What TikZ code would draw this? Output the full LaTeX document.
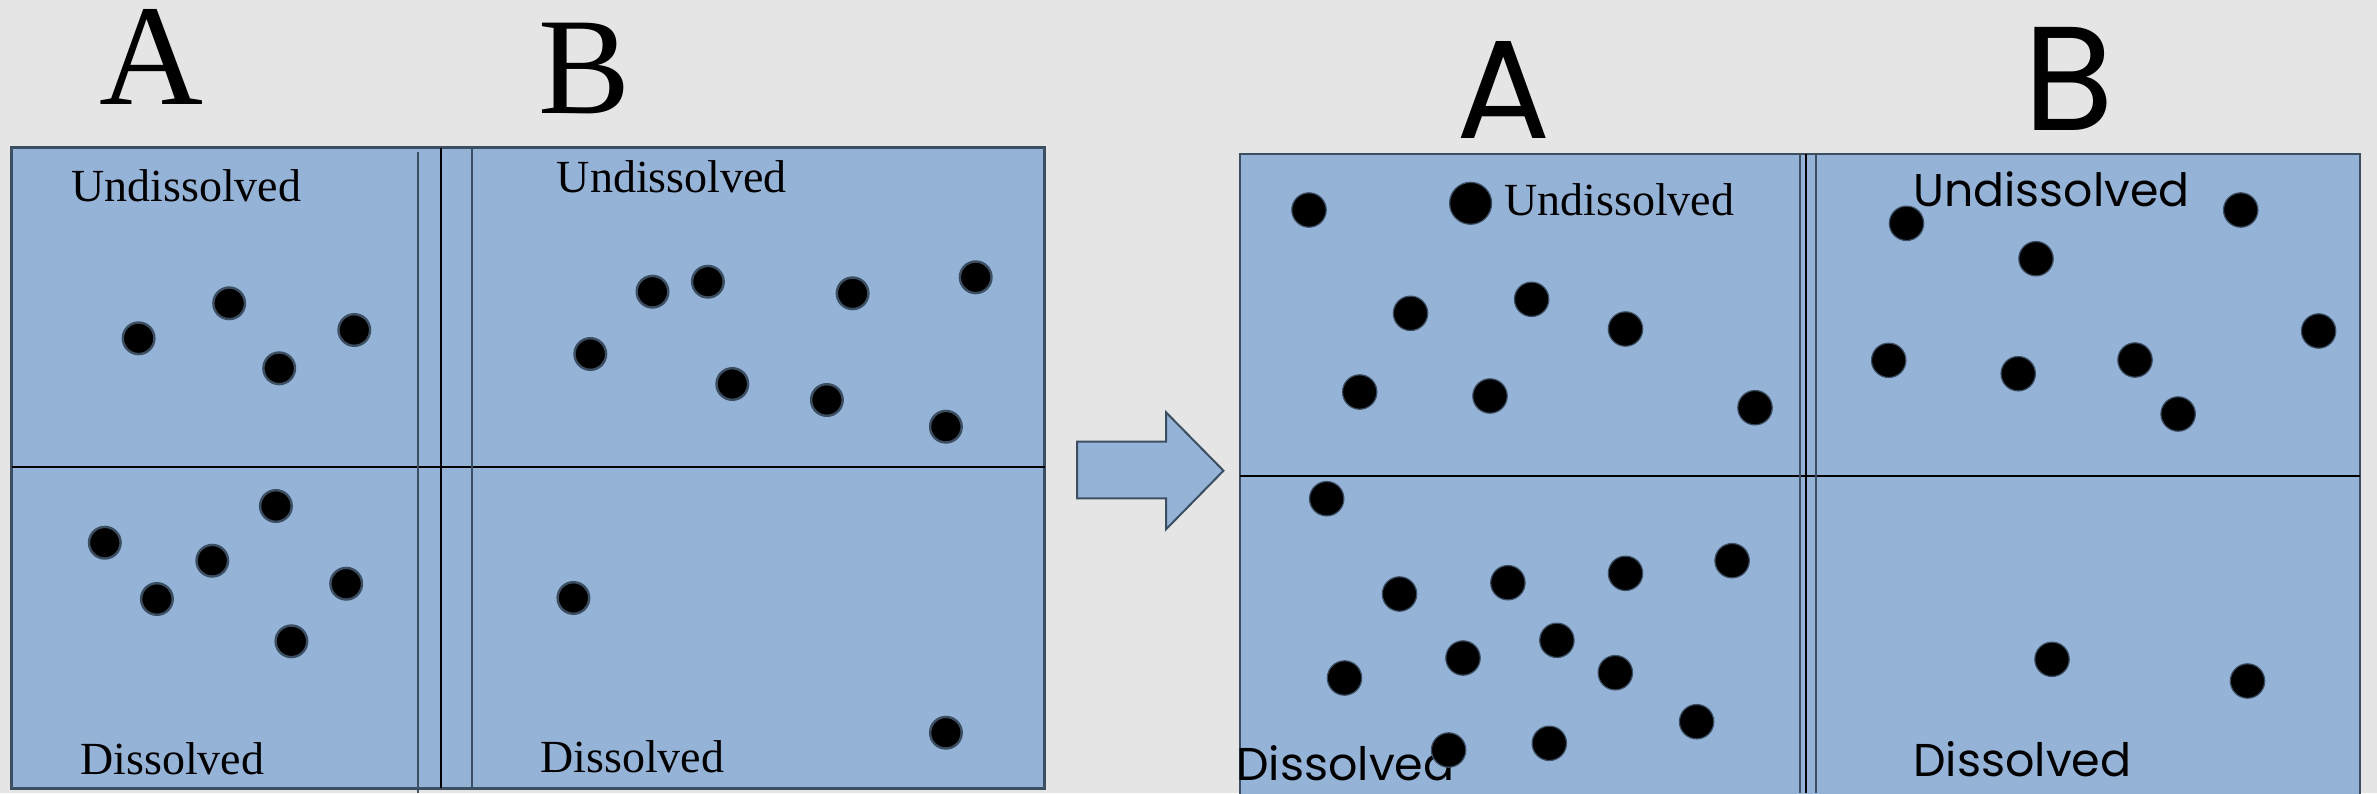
\documentclass[tikz,border=0pt]{standalone}
\usepackage{fontspec}
\setmainfont{Liberation Serif}
\newfontfamily\sansf{Poppins}
\definecolor{bg}{RGB}{229,229,229}
\definecolor{panel}{RGB}{149,179,215}
\definecolor{edge}{RGB}{60,78,98}
\begin{document}
\begin{tikzpicture}[x=0.5pt,y=-0.5pt,
  panelbox/.style={fill=panel,draw=edge,line width=1.4pt},
  slateline/.style={draw=edge,line width=1pt},
  blackline/.style={draw=black,line width=0.8pt},
  dotL/.style={fill=black,draw=edge,line width=1.2pt},
  dotR/.style={fill=black,draw=edge,line width=0.6pt},
  txt/.style={inner sep=0pt,anchor=base west},
  serifword/.style={txt,font=\fontsize{23}{26}\selectfont},
  bigletter/.style={inner sep=0pt,anchor=base}]
\useasboundingbox (0,0) rectangle (2377,793);
\clip (0,0) rectangle (2377,793);
\fill[bg] (0,0) rectangle (2377,793);

% ---------- left panel ----------
\draw[panelbox] (11.5,147.7) rectangle (1044.6,788.3);
\draw[blackline] (11.5,466.7) -- (1044.6,466.7);
\draw[slateline] (417.5,151.7) -- (417.5,793);
\draw[blackline] (441,147.7) -- (441,788);
\draw[slateline] (471.7,146) -- (471.7,786.7);

\node[bigletter,font=\fontsize{72}{80}\selectfont] (lA) at (151,104) {A};
\node[bigletter,font=\fontsize{69}{76}\selectfont] (lB) at (585,113) {B};
\node[serifword] (lAU) at (71,201.7) {Undissolved};
\node[serifword] (lBU) at (556.5,192.7) {Undissolved};
\node[serifword] (lAD) at (80,774.3) {Dissolved};
\node[serifword] (lBD) at (540,772.7) {Dissolved};

\foreach \x/\y in {138.6/338.3, 229.2/303.3, 279.2/368.3, 354.3/330,
  652.5/291.7, 707.9/281.7, 852.6/293.3, 975.7/277.3, 590.3/354,
  732.3/384, 826.9/400, 945.9/426.7,
  275.9/506, 104.8/542.7, 212.3/560.7, 156.9/599, 346.2/583.7, 291.4/641.3,
  573.4/598, 945.9/732.7}
  \draw[dotL] (\x,\y) circle[radius=7.9pt];

% ---------- arrow ----------
\draw[panelbox,line width=1pt] (1077,441.7) -- (1166,441.7) -- (1166,412.3) -- (1223.5,470.7)
  -- (1166,529.3) -- (1166,498.3) -- (1077,498.3) -- cycle;

% ---------- right panel ----------
\draw[panelbox,line width=1pt] (1239.6,154.3) rectangle (2360,820);
\draw[blackline] (1239.6,476) -- (2360,476);
\draw[slateline] (1800,154.3) -- (1800,793);
\draw[blackline,line width=0.6pt] (1806,154.3) -- (1806,793);
\draw[slateline] (1816,154.3) -- (1816,793);

\node[bigletter,font=\sansf\fontsize{70}{78}\selectfont] (rA) at (1504,138.3) {A};
\node[bigletter,font=\sansf\fontsize{74}{82}\selectfont] (rB) at (2069,130.7) {B};
\node[serifword] (rAU) at (1504,215) {Undissolved};
\node[txt] (rBU) at (1913,206.7) {\resizebox{138pt}{!}{\sansf Undissolved}};
\node[txt] (rAD) at (1236,780) {\resizebox{109pt}{!}{\sansf Dissolved}};
\node[txt] (rBD) at (1913,776.7) {\resizebox{109pt}{!}{\sansf Dissolved}};

\foreach \x/\y in {1309/210, 1410.5/313.3, 1531.6/299.3, 1625.5/329,
  1359.7/392, 1490/396, 1755/407.7,
  1906.5/223.3, 2240.7/210, 2036/258.7, 2318.6/331, 1888.7/360.3,
  2018.2/373.7, 2135/360, 2178.1/414,
  1326.7/498.7, 1399.5/594, 1507.9/582.7, 1625.5/573.3, 1732.1/560.7,
  1344.5/678, 1463/658, 1556.9/640.3, 1615.3/672.7, 1696.6/721.7,
  1448.6/750, 1549.3/743.3,
  2052/659.3, 2247.5/681}
  \draw[dotR] (\x,\y) circle[radius=8.6pt];
\draw[dotR] (1470.6,203.3) circle[radius=10.5pt];
\end{tikzpicture}
\end{document}
